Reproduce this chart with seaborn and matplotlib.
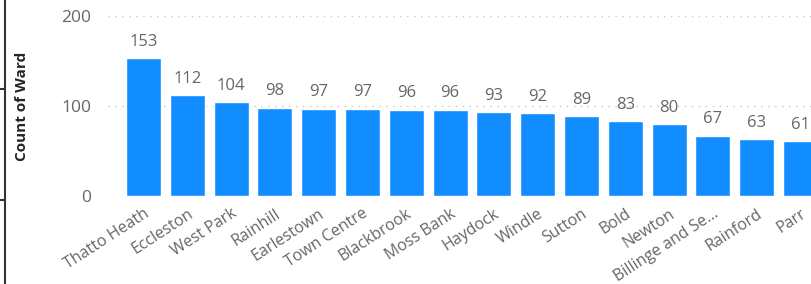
import matplotlib
matplotlib.use("Agg")
import matplotlib.pyplot as plt
import seaborn as sns
import pandas as pd
from matplotlib.lines import Line2D

wards = ["Thatto Heath", "Eccleston", "West Park", "Rainhill", "Earlestown",
         "Town Centre", "Blackbrook", "Moss Bank", "Haydock", "Windle",
         "Sutton", "Bold", "Newton", "Billinge and Se...", "Rainford", "Parr"]
counts = [153, 112, 104, 98, 97, 97, 96, 96, 93, 92, 89, 83, 80, 67, 63, 61]
y_ticks = [0, 100, 200]

df = pd.DataFrame({"Ward": wards, "Count": counts})

sns.set_theme(style="white")
plt.rcParams["font.family"] = ["Open Sans", "DejaVu Sans"]

W, H = 811, 284
fig = plt.figure(figsize=(W / 100, H / 100), dpi=100)
ax = fig.add_axes([108 / W, 1 - 196 / H, 1 - 108 / W, 180 / H])

sns.barplot(data=df, x="Ward", y="Count", color="#118DFF", width=0.8,
            saturation=1, ax=ax, zorder=3)

ax.set_ylim(0, 200)
ax.set_xlim(-0.81, 15.24)
ax.set_yticks(y_ticks)
ax.set_yticklabels([str(t) for t in y_ticks], fontsize=12.5, color="#666666")
for t in y_ticks:
    ax.axhline(t, color="#c8c8c8", linestyle=(0, (1, 4)), linewidth=1, zorder=1)

ax.set_xticks(range(len(wards)))
ax.set_xticklabels(wards, rotation=33, ha="right", va="top",
                   rotation_mode="anchor", fontsize=11.5, color="#666666")
ax.tick_params(axis="x", length=0, pad=7)
ax.tick_params(axis="y", length=0, pad=12)

for i, v in enumerate(counts):
    ax.annotate(str(v), (i, v), xytext=(0, 6), textcoords="offset points",
                ha="center", va="bottom", fontsize=12, color="#666666")

ax.set_xlabel("")
ax.set_ylabel("Count of Ward", fontsize=11, fontweight="bold", color="#252423")
ax.yaxis.set_label_coords((29 - 108) / (W - 108), 0.5)
for s in ax.spines.values():
    s.set_visible(False)

# left border decoration
fig.add_artist(Line2D([5 / W, 5 / W], [0, 1], color="#333333", linewidth=1.5,
                      transform=fig.transFigure))
for yy in (89, 200):
    fig.add_artist(Line2D([0, 5 / W], [1 - yy / H, 1 - yy / H], color="#333333",
                          linewidth=1.5, transform=fig.transFigure))

fig.savefig("out.png", dpi=100)
